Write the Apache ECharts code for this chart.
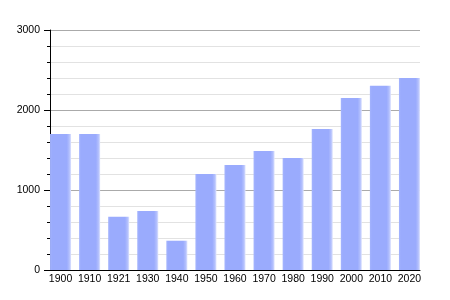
<!DOCTYPE html>
<html><head><meta charset="utf-8">
<script src="https://cdn.jsdelivr.net/npm/echarts@6/dist/echarts.min.js"></script>
<style>html,body{margin:0;padding:0;background:#fff}#c{width:450px;height:300px}</style>
</head><body><div id="c"></div>
<script>
const categories = ['1900','1910','1921','1930','1940','1950','1960','1970','1980','1990','2000','2010','2020'];
const population = [1700,1700,666,737,366,1200,1312,1487,1400,1762,2150,2304,2400];
const yTicks = [0,1000,2000,3000];

const font = 'Liberation Sans, Arial, sans-serif';
const chart = echarts.init(document.getElementById('c'), null, {renderer:'canvas'});
const barColor = new echarts.graphic.LinearGradient(0,0,1,0,[
  {offset:0,color:'#a4b4fd'},
  {offset:0.1,color:'#9aabfd'},
  {offset:0.8,color:'#9aabfd'},
  {offset:0.92,color:'#b3c0fd'},
  {offset:1,color:'#dde3fe'}
]);
chart.setOption({
  animation:false,
  grid:[
    {left:50,right:30,top:30,bottom:30},
    {left:46,right:26,top:30,bottom:30}
  ],
  xAxis:[
    {type:'value',gridIndex:0,min:0,max:1,axisLine:{show:true,onZero:false,lineStyle:{color:'#000',width:1}},axisTick:{show:false},axisLabel:{show:false},splitLine:{show:false}},
    {type:'category',gridIndex:1,data:categories,boundaryGap:true,axisLine:{show:false},axisTick:{show:false},
     axisLabel:{color:'#000',fontFamily:font,fontSize:10.5,margin:4,interval:0}}
  ],
  yAxis:[
    {type:'value',gridIndex:0,min:yTicks[0],max:yTicks[yTicks.length-1],interval:1000,
     axisLine:{show:true,lineStyle:{color:'#000',width:1}},
     axisTick:{show:true,length:6,lineStyle:{color:'#000'}},
     minorTick:{show:true,splitNumber:5,length:3,lineStyle:{color:'#000'}},
     axisLabel:{color:'#000',fontFamily:font,fontSize:10.5,margin:10,formatter:v=>String(v)},
     splitLine:{show:true,lineStyle:{color:'#aaaaaa',width:1}},
     minorSplitLine:{show:true,lineStyle:{color:'#e2e2e2',width:1}}},
    {type:'value',gridIndex:1,min:yTicks[0],max:yTicks[yTicks.length-1],show:false}
  ],
  series:[{
    type:'bar',xAxisIndex:1,yAxisIndex:1,data:population,barWidth:21,
    itemStyle:{color:barColor}
  }]
});
</script></body></html>
